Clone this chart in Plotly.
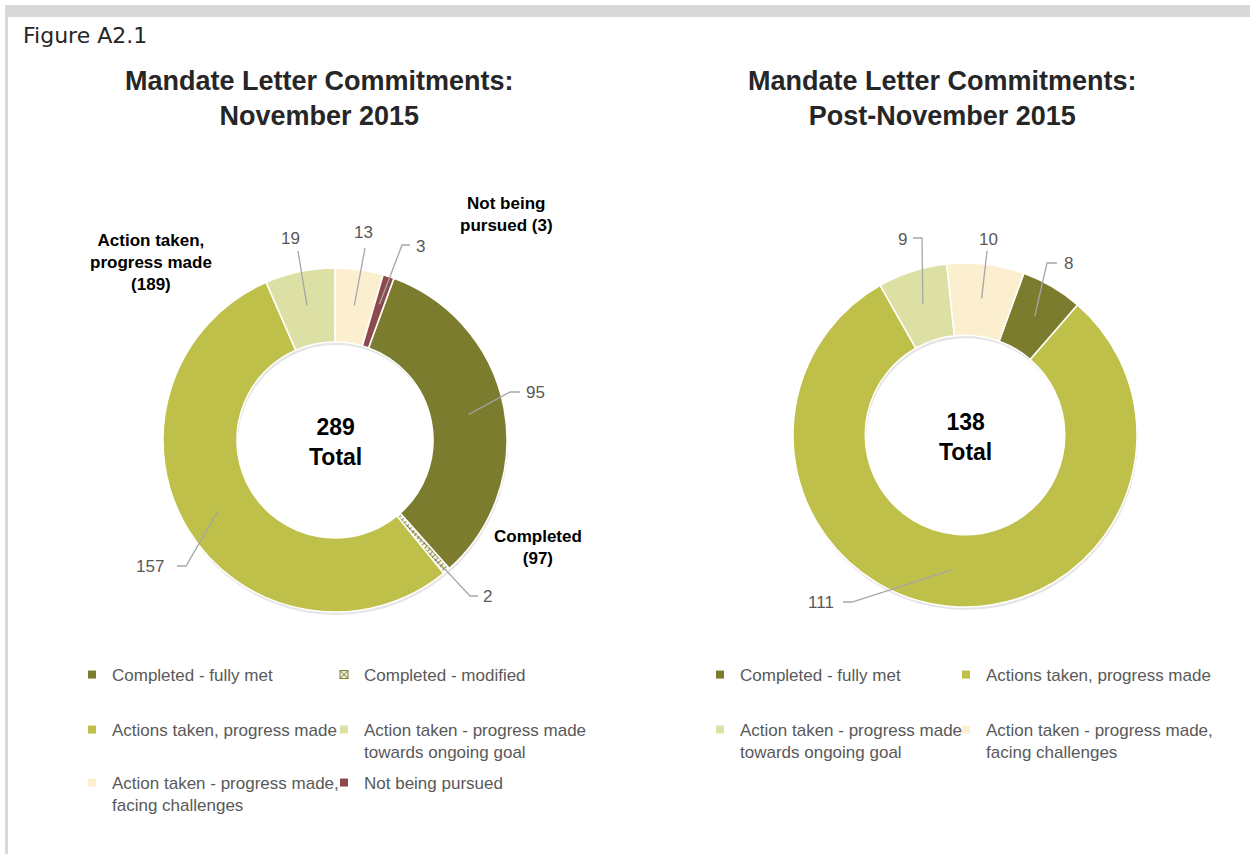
import math
import plotly.graph_objects as go

# ---------------- data ----------------
left_categories = ["Completed - fully met", "Completed - modified", "Actions taken, progress made",
                   "Action taken - progress made<br>towards ongoing goal",
                   "Action taken - progress made,<br>facing challenges", "Not being pursued"]
left_values = [95, 2, 157, 19, 13, 3]
left_colors = ["#7B7C2E", "#FFFFFF", "#BFC04A", "#DDE0A4", "#FCEFCF", "#8C4A4F"]

right_categories = ["Completed - fully met", "Actions taken, progress made",
                    "Action taken - progress made<br>towards ongoing goal",
                    "Action taken - progress made,<br>facing challenges"]
right_values = [8, 111, 9, 10]
right_colors = ["#7B7C2E", "#BFC04A", "#DDE0A4", "#FCEFCF"]

left_title = "Mandate Letter Commitments:<br>November 2015"
right_title = "Mandate Letter Commitments:<br>Post-November 2015"

# ---------------- geometry helpers ----------------
W, H = 1250, 854
def X(px): return px / W
def Y(py): return 1 - py / H

ROT = 20
LEFT = dict(cx=335, cy=440, R=172, hole=0.57)
RIGHT = dict(cx=965, cy=435, R=172, hole=0.58)

def domain(g, dx=0, dy=0):
    return dict(x=[X(g["cx"] - g["R"] + dx), X(g["cx"] + g["R"] + dx)],
                y=[Y(g["cy"] + g["R"] + dy), Y(g["cy"] - g["R"] + dy)])

def mid_angles(values, rotation):
    tot = sum(values)
    out, cum = [], 0
    for v in values:
        out.append(rotation + (cum + v / 2) / tot * 360)
        cum += v
    return out

fig = go.Figure()

FONT = "Liberation Sans, Arial, sans-serif"
GRAY = "#595959"
LINE = "#A6A6A6"

# shadows + pies
for g, vals, cols, cats, pattern in [
    (LEFT, left_values, left_colors, left_categories, ["", "x", "", "", "", ""]),
    (RIGHT, right_values, right_colors, right_categories, None),
]:
    fig.add_trace(go.Pie(values=[1], labels=["s"], domain=domain(g, 1, 3), hole=g["hole"],
                         marker=dict(colors=["rgba(0,0,0,0.10)"], line=dict(width=0)),
                         textinfo="none", hoverinfo="skip", showlegend=False, sort=False))
    mk = dict(colors=cols, line=dict(color="#FFFFFF", width=1.5))
    if pattern:
        mk["pattern"] = dict(shape=pattern, fgcolor="#7B7C2E", size=4, solidity=0.45)
    fig.add_trace(go.Pie(values=vals, labels=cats, domain=domain(g), hole=g["hole"],
                         marker=mk, sort=False, direction="clockwise", rotation=ROT,
                         textinfo="none", hoverinfo="label+value", showlegend=False))

# data labels with leader lines (positions in px: text, elbow, end, anchor radius fraction)
left_label_pos = [
    dict(t=(535, 393), elbow=(510, 392), end=(520, 392), rf=0.79),
    dict(t=(487, 596), elbow=(470, 596), end=(478, 596), rf=0.98),
    dict(t=(150, 566), elbow=(186, 566), end=(177, 566), rf=0.80),
    dict(t=(290, 239), elbow=None, end=(298, 251), rf=0.80),
    dict(t=(363, 232), elbow=None, end=(365, 248), rf=0.79),
    dict(t=(420, 246), elbow=(402, 245), end=(410, 245), rf=0.83),
]
right_label_pos = [
    dict(t=(1068, 263), elbow=(1047, 263), end=(1057, 263), rf=0.80),
    dict(t=(821, 602), elbow=(852, 602), end=(843, 602), rf=0.79),
    dict(t=(902, 240), elbow=(922, 238), end=(913, 238), rf=0.80),
    dict(t=(988, 240), elbow=None, end=(987, 251), rf=0.80),
]

shapes = []
annotations = []
for g, vals, pos in [(LEFT, left_values, left_label_pos), (RIGHT, right_values, right_label_pos)]:
    for v, a, p in zip(vals, mid_angles(vals, ROT), pos):
        r = g["R"] * p["rf"]
        ax = g["cx"] + r * math.sin(math.radians(a))
        ay = g["cy"] - r * math.cos(math.radians(a))
        pts = [(ax, ay)]
        if p["elbow"]:
            pts.append(p["elbow"])
        pts.append(p["end"])
        path = "M " + " L ".join(f"{X(x):.5f},{Y(y):.5f}" for x, y in pts)
        shapes.append(dict(type="path", path=path, xref="paper", yref="paper",
                           line=dict(color=LINE, width=1.3)))
        annotations.append(dict(x=X(p["t"][0]), y=Y(p["t"][1]), xref="paper", yref="paper",
                                text=str(v), showarrow=False, xanchor="center", yanchor="middle",
                                font=dict(family=FONT, size=17, color=GRAY)))

# center totals
for g, vals in [(LEFT, left_values), (RIGHT, right_values)]:
    annotations.append(dict(x=X(g["cx"]), y=Y(g["cy"] + 2), xref="paper", yref="paper",
                            text=f"<b>{sum(vals)}</b><br><b>Total</b>", showarrow=False,
                            xanchor="center", yanchor="middle",
                            font=dict(family=FONT, size=23, color="#000000")))

# bold category callouts (left chart)
completed = left_values[0] + left_values[1]
in_progress = left_values[2] + left_values[3] + left_values[4]
not_pursued = left_values[5]
for txt, (px_, py_) in [
    (f"<b>Action taken,<br>progress made<br>({in_progress})</b>", (151, 262)),
    (f"<b>Not being<br>pursued ({not_pursued})</b>", (506, 215)),
    (f"<b>Completed<br>({completed})</b>", (538, 547)),
]:
    annotations.append(dict(x=X(px_), y=Y(py_), xref="paper", yref="paper", text=txt,
                            showarrow=False, xanchor="center", yanchor="middle",
                            font=dict(family=FONT, size=17, color="#000000")))

# titles
for txt, cx in [(left_title, 319), (right_title, 942)]:
    annotations.append(dict(x=X(cx), y=Y(98), xref="paper", yref="paper",
                            text=f"<b>{txt}</b>", showarrow=False, xanchor="center", yanchor="middle",
                            font=dict(family=FONT, size=27, color="#262626")))

annotations.append(dict(x=X(21), y=Y(35), xref="paper", yref="paper", text="Figure A2.1",
                        showarrow=False, xanchor="left", yanchor="middle",
                        font=dict(family="DejaVu Sans, sans-serif", size=22, color="#262626")))

# frame
shapes.append(dict(type="rect", xref="paper", yref="paper", x0=X(5), x1=1, y0=Y(17), y1=Y(5),
                   fillcolor="#D9D9D9", line=dict(width=0)))
shapes.append(dict(type="rect", xref="paper", yref="paper", x0=X(5), x1=X(8), y0=0, y1=Y(5),
                   fillcolor="#D9D9D9", line=dict(width=0)))

# legends: one legend per entry, arranged in two columns
def legend_entry(name, color, legend, symbol="square"):
    line = dict(width=0)
    if symbol != "square":
        line = dict(width=1, color="#7B7C2E")
    fig.add_trace(go.Scatter(x=[None], y=[None], mode="markers", name=name, legend=legend,
                             marker=dict(symbol=symbol, size=8, color=color, line=line),
                             hoverinfo="skip", showlegend=True))

row_y = [675, 730, 783]
legend_layouts = {}
k = 1
for cats, cols, col_x in [
    (left_categories, left_colors, (112, 364)),
    (right_categories, right_colors, (740, 986)),
]:
    for i, cat in enumerate(cats):
        lname = "legend" if k == 1 else f"legend{k}"
        modified = cat == "Completed - modified"
        legend_entry(cat, "#EEEEDD" if modified else cols[i], lname,
                     "square-x" if modified else "square")
        legend_layouts[lname] = dict(
            orientation="v", x=X(col_x[i % 2] - 40), y=Y(row_y[i // 2] - 18),
            xanchor="left", yanchor="top",
            bgcolor="rgba(0,0,0,0)", borderwidth=0, valign="top",
            font=dict(family=FONT, size=17, color=GRAY), itemclick=False, itemdoubleclick=False)
        k += 1

fig.update_layout(
    width=W, height=H, margin=dict(l=0, r=0, t=0, b=0),
    paper_bgcolor="white", plot_bgcolor="white",
    xaxis=dict(visible=False), yaxis=dict(visible=False),
    shapes=shapes, annotations=annotations, showlegend=True,
    **legend_layouts,
)

fig.write_html("out.html", config={"displayModeBar": False},
               post_script="document.body.style.margin='0';")
